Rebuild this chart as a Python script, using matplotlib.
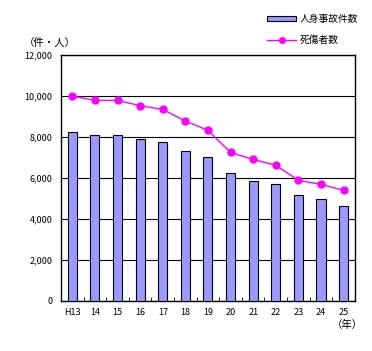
import matplotlib
matplotlib.use("Agg")
import matplotlib.pyplot as plt
from matplotlib.patches import Patch
from matplotlib.lines import Line2D
import numpy as np

plt.rcParams['font.family'] = ['Noto Sans CJK JP', 'DejaVu Sans']

years = ['H13', '14', '15', '16', '17', '18', '19', '20', '21', '22', '23', '24', '25']
accidents = [8230, 8100, 8100, 7890, 7740, 7300, 7010, 6230, 5840, 5690, 5160, 4960, 4620]
casualties = [10000, 9790, 9790, 9530, 9350, 8780, 8330, 7250, 6910, 6620, 5890, 5690, 5400]
yticks = [0, 2000, 4000, 6000, 8000, 10000, 12000]

fig = plt.figure(figsize=(3.72, 3.51), dpi=100)
ax = fig.add_axes([0.164, 0.1425, 0.79, 0.7005])
x = np.arange(len(years))
ax.bar(x, accidents, width=0.4, color='#9999FF', edgecolor='black', linewidth=0.8, zorder=3)
ax.plot(x, casualties, color='#FF00FF', marker='o', markersize=5, linewidth=1.0, zorder=4)

ax.set_xlim(-0.5, len(years) - 0.5)
ax.set_ylim(0, 12000)
ax.set_yticks(yticks)
ax.set_yticklabels([f'{v:,}' for v in yticks], fontsize=6.5)
ax.yaxis.grid(True, color='black', linewidth=0.8, zorder=0)
ax.tick_params(axis='y', length=0, pad=6)
ax.set_xticks(x)
ax.set_xticklabels(years, fontsize=6.5)
ax.tick_params(axis='x', length=0, pad=5)
ax.set_xticks(np.arange(len(years) + 1) - 0.5, minor=True)
ax.tick_params(axis='x', which='minor', direction='in', length=3)
for s in ax.spines.values():
    s.set_linewidth(1.0)

fig.text(0.065, 0.877, '（件・人）', fontsize=7.5, ha='left', va='center')
fig.text(0.975, 0.073, '（年）', fontsize=7.5, ha='right', va='center')

handles = [Patch(facecolor='#9999FF', edgecolor='black', linewidth=0.8),
           Line2D([0], [0], color='#FF00FF', marker='o', markersize=4, linewidth=1.0)]
fig.legend(handles, ['人身事故件数', '死傷者数'], loc='upper left',
           bbox_to_anchor=(0.695, 0.985), frameon=False, fontsize=7,
           handlelength=3.0, handleheight=0.4, labelspacing=1.1, handletextpad=0.3)

fig.savefig('out.png', dpi=100)
